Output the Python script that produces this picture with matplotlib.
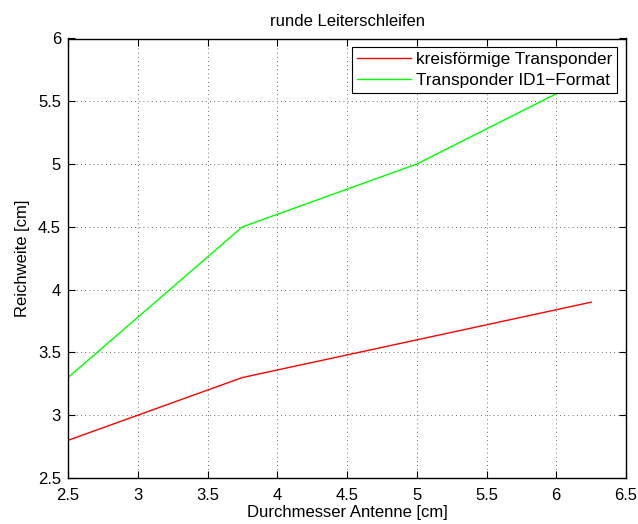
import matplotlib
matplotlib.use("Agg")
import matplotlib.pyplot as plt

plt.rcParams['font.family'] = ['Liberation Sans', 'DejaVu Sans']

durchmesser = [2.5, 3.75, 5.0, 6.25]
kreisfoermig = [2.8, 3.3, 3.6, 3.9]
id1_format = [3.3, 4.5, 5.0, 5.7]
x_ticks = [2.5, 3, 3.5, 4, 4.5, 5, 5.5, 6, 6.5]
y_ticks = [2.5, 3, 3.5, 4, 4.5, 5, 5.5, 6]

fig = plt.figure(figsize=(6.38, 5.24), dpi=100)
ax = fig.add_axes([68 / 638, 1 - 478 / 524, (626 - 68) / 638, (478 - 38.5) / 524])

ax.plot(durchmesser, kreisfoermig, color='#ff0000', lw=1.0, label='kreisförmige Transponder')
ax.plot(durchmesser, id1_format, color='#00ff00', lw=1.0, label='Transponder ID1\u2212Format')

ax.set_xlim(2.5, 6.5)
ax.set_ylim(2.5, 6)
ax.set_xticks(x_ticks)
ax.set_yticks(y_ticks)
ax.set_xticklabels([f'{v:g}' for v in x_ticks])
ax.set_yticklabels([f'{v:g}' for v in y_ticks])
ax.tick_params(direction='in', top=True, right=True, length=5, width=0.8, labelsize=12)
ax.tick_params(axis='x', pad=7)
ax.tick_params(axis='y', pad=5)
ax.grid(True, linestyle=(0, (1, 4)), color='#404040', lw=0.6)
for s in ax.spines.values():
    s.set_linewidth(1.0)

ax.set_title('runde Leiterschleifen', fontsize=12, pad=9)
ax.set_xlabel('Durchmesser Antenne [cm]', fontsize=12, labelpad=2)
ax.set_ylabel('Reichweite [cm]', fontsize=12, labelpad=6)

leg = ax.legend(loc='upper right', fontsize=12.4, fancybox=False, framealpha=1,
                edgecolor='black', borderaxespad=0.5, handlelength=3.1,
                borderpad=0.3, labelspacing=0.3, handletextpad=0.3)
leg.get_frame().set_linewidth(0.8)

fig.savefig('out.png', dpi=100)
